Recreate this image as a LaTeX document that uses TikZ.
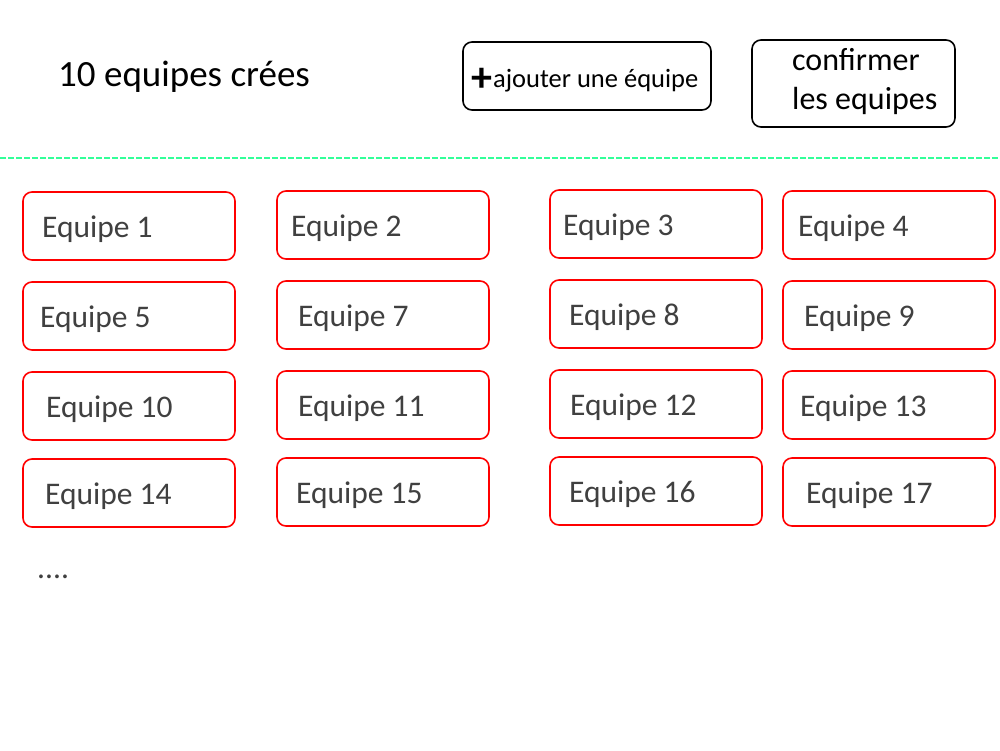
\documentclass[tikz,border=0pt]{standalone}
\usepackage{fontspec}
\setmainfont{Carlito}
\usetikzlibrary{calc}
\definecolor{boxred}{HTML}{FF0000}
\definecolor{labelgray}{HTML}{404040}
\definecolor{sepgreen}{HTML}{33FF99}

\begin{document}
\begin{tikzpicture}[x=1pt,y=-1pt,
    teambox/.style={draw=boxred,line width=1.6pt,rounded corners=9pt,minimum width=212pt,minimum height=68pt,inner sep=0pt},
    teamlabel/.style={anchor=base west,inner sep=0pt,text=labelgray,font=\fontsize{31.5}{36}\selectfont},
    btnbox/.style={draw=black,line width=1.6pt,rounded corners=9pt,inner sep=0pt},
    toplabel/.style={anchor=base west,inner sep=0pt,font=\fontsize{32}{36}\selectfont}]
  \useasboundingbox (0,0) rectangle (1000,750);
  % header
  \node[toplabel,font=\fontsize{37}{40}\selectfont] (title) at (58,86) {10 equipes crées};
  \node[btnbox,minimum width=248pt,minimum height=68pt] (add) at (587,76) {};
  \node[toplabel,font=\fontsize{26.5}{30}\selectfont] (addtxt) at (471,87) {\raisebox{-4pt}{\fontsize{42}{42}\bfseries +}\hspace{1pt}ajouter une équipe};
  \node[btnbox,minimum width=203pt,minimum height=87pt] (confirm) at (853.5,83.5) {};
  \node[toplabel] (conf1) at (792,70) {confirmer};
  \node[toplabel] (conf2) at (792,109) {les equipes};
  \coordinate (sepL) at (0,158);
  \coordinate (sepR) at (1000,158);
  \draw[sepgreen,line width=1.2pt,dash pattern=on 6pt off 2pt] (sepL) -- (sepR);
  % teams
  \foreach \n/\bx/\by/\tx in {1/23/192/42,2/277/191/291,3/550/190/563,4/783/191/798,
      5/23/282/40,7/277/281/298,8/550/280/569,9/783/281/804,
      10/23/372/46,11/277/371/298,12/550/370/570,13/783/371/800,
      14/23/459/45,15/277/458/296,16/550/457/569,17/783/458/806} {
    \node[teambox] (e\n) at (\bx+106,\by+34) {};
    \node[teamlabel] (t\n) at (\tx,\by+45) {Equipe \n};
  }
  \node[teamlabel] (more) at (37,578) {....};
\end{tikzpicture}
\end{document}
